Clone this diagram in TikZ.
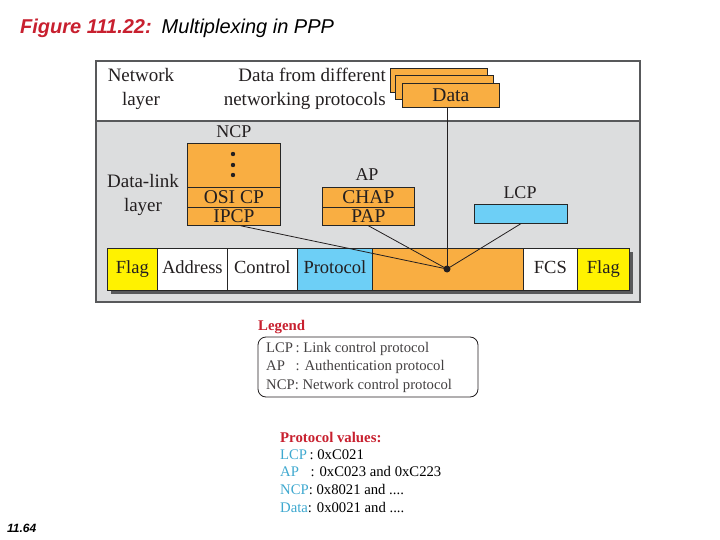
\documentclass[tikz,border=0pt]{standalone}
\usepackage{fontspec}
\setmainfont{Liberation Serif}
\newfontfamily\arsans{Liberation Sans}
\usetikzlibrary{calc}
\definecolor{ppporange}{HTML}{F9AE42}
\definecolor{pppyellow}{HTML}{FFF200}
\definecolor{pppblue}{HTML}{6DCFF6}
\definecolor{pppgray}{HTML}{DCDDDE}
\definecolor{pppborder}{HTML}{58595B}
\definecolor{pppred}{HTML}{C8202F}
\definecolor{pppcyan}{HTML}{3FA9D0}
\definecolor{ppptext}{HTML}{231F20}
\begin{document}
\begin{tikzpicture}[x=1pt,y=-1pt,
  big/.style={inner sep=0pt, text=ppptext, font=\fontsize{19}{24}\selectfont},
  mid/.style={inner sep=0pt, text=ppptext, font=\fontsize{18}{20}\selectfont},
  cell/.style={draw=black!85, line width=0.7pt, fill=ppporange, inner sep=0pt, anchor=north west, text=ppptext, text height=13pt, text depth=0pt, font=\fontsize{19.5}{20}\selectfont},
  fld/.style={draw=black!85, line width=0.7pt, inner sep=0pt, minimum height=42pt, anchor=north west, text=ppptext, text height=12.5pt, text depth=4pt, font=\fontsize{18.5}{20}\selectfont},
  wire/.style={draw=ppptext, line width=0.8pt},
  small/.style={inner sep=0pt, anchor=west, font=\fontsize{14.7}{18.5}\selectfont},
]
\useasboundingbox[fill=white] (0,0) rectangle (720,540);

% title
\node[inner sep=0pt, anchor=base west, font=\arsans\itshape\fontsize{20}{22}\selectfont] (title) at (20,34)
  {{\color{pppred}\bfseries Figure 111.22:}\hspace{10pt}Multiplexing in PPP};
\node[inner sep=0pt, anchor=base west, font=\arsans\bfseries\itshape\fontsize{12}{14}\selectfont] (pagenum) at (7,532) {11.64};

% layers
\fill[pppgray] (96,121) rectangle (640,302);
\draw[pppborder, line width=1.4pt] (96,61) rectangle (640,302);
\draw[pppborder, line width=1.4pt] (96,121) -- (640,121);

\node[big, align=center] (netlayer) at (141,89) {Network\\layer};
\node[big, align=right, anchor=east] (datadiff) at (386,89) {Data from different\\networking protocols};
\node[big, align=center] (dllayer) at (143,195) {Data-link\\layer};

% data stack
\node[cell, minimum width=97pt, minimum height=24pt] (data3) at (390,68) {};
\node[cell, minimum width=98pt, minimum height=24pt] (data2) at (395,75) {};
\node[cell, minimum width=97pt, minimum height=24pt] (data) at (402,83) {Data};

% NCP
\node[mid] (ncplbl) at (234,132) {NCP};
\node[cell, minimum width=93pt, minimum height=44pt] (ncpdots) at (187,143) {};
\foreach \yy in {154,165,175} \fill[ppptext] (233,\yy) circle (2.2pt);
\node[cell, minimum width=93pt, minimum height=20pt] (osicp) at (187,187) {OSI CP};
\node[cell, minimum width=93pt, minimum height=18pt] (ipcp) at (187,207) {IPCP};

% AP
\node[mid] (aplbl) at (367,175) {AP};
\node[cell, minimum width=92pt, minimum height=20pt] (chap) at (322,187) {CHAP};
\node[cell, minimum width=92pt, minimum height=18pt] (pap) at (322,207) {PAP};

% LCP
\node[mid] (lcplbl) at (520,193) {LCP};
\node[cell, fill=pppblue, minimum width=93pt, minimum height=19pt] (lcp) at (474,204) {};

% frame
\fill[pppborder] (111,252) rectangle (633,294);
\node[fld, fill=pppyellow, minimum width=50pt] (flag1) at (107,248) {Flag};
\node[fld, fill=white, minimum width=70pt] (addr) at (157,248) {Address};
\node[fld, fill=white, minimum width=70pt] (ctrl) at (227,248) {Control};
\node[fld, fill=pppblue, minimum width=75pt] (proto) at (297,248) {Protocol};
\node[fld, fill=ppporange, minimum width=151pt] (payload) at (372,248) {};
\node[fld, fill=white, minimum width=54pt] (fcs) at (523,248) {FCS};
\node[fld, fill=pppyellow, minimum width=52pt] (flag2) at (577,248) {Flag};

% multiplexing point
\node[circle, fill=ppptext, inner sep=0pt, minimum size=7pt] (dot) at (447,269) {};
\draw[wire] ($(ipcp.south west)!0.57!(ipcp.south east)$) -- (dot.center);
\draw[wire] (pap.south) -- (dot.center);
\draw[wire] (lcp.south) -- (dot.center);
\draw[wire] (data.south -| dot) -- (dot.center);

% legend
\node[inner sep=0pt, anchor=base west, text=pppred, font=\bfseries\fontsize{14.8}{16}\selectfont] (legendttl) at (258,330) {Legend};
\draw[ppptext, line width=0.8pt, rounded corners=8pt] (258,337) rectangle (478,397);
\node[small, align=left, text=ppptext!85] (legendtxt) at (266,367)
  {LCP\,: Link control protocol\\
   \makebox[27pt][l]{AP}\,: Authentication protocol\\
   NCP: Network control protocol};

% protocol values
\node[inner sep=0pt, anchor=base west, text=pppred, font=\bfseries\fontsize{14.8}{16}\selectfont] (pvttl) at (280,442) {Protocol values:};
\node[small, align=left, font=\fontsize{14.7}{17.7}\selectfont] (pvtxt) at (280,481)
  {{\color{pppcyan}LCP}\,: 0xC021\\
   \makebox[28pt][l]{\color{pppcyan}AP}\,: 0xC023 and 0xC223\\
   {\color{pppcyan}NCP}: 0x8021 and ....\\
   {\color{pppcyan}Data}: 0x0021 and ....};
\end{tikzpicture}
\end{document}
